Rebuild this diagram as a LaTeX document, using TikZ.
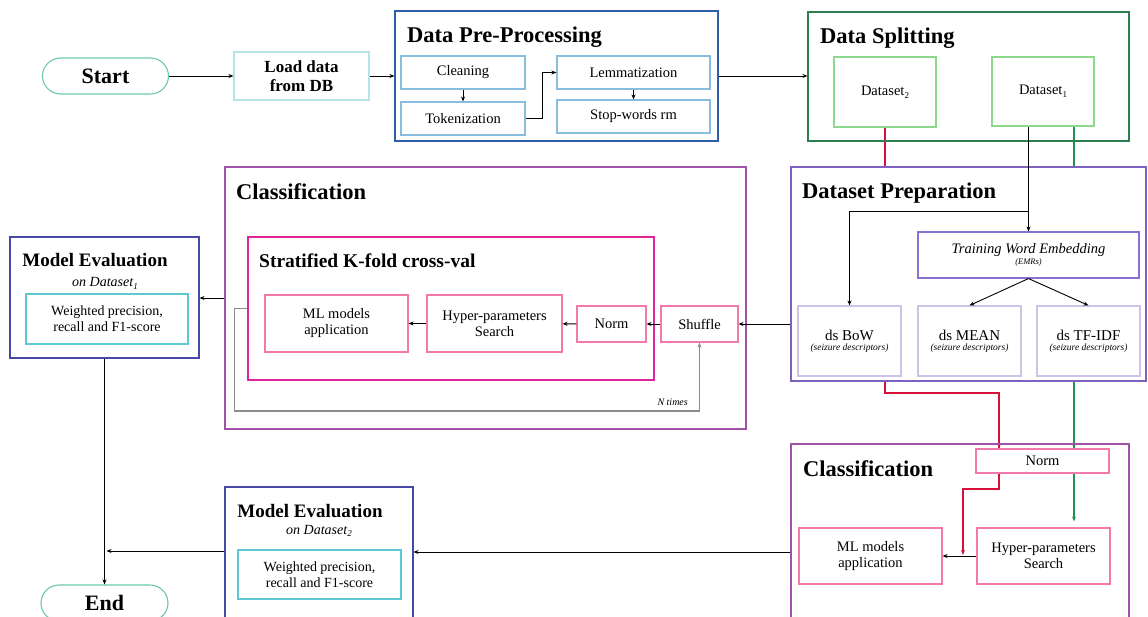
\documentclass[tikz,border=0pt]{standalone}
\usepackage{fontspec}
\setmainfont{Liberation Serif}
\usetikzlibrary{arrows.meta,calc}

\definecolor{termc}{HTML}{6CC8A8}
\definecolor{loadc}{HTML}{B5E3E8}
\definecolor{prepc}{HTML}{2E5EA8}
\definecolor{prepin}{HTML}{88BDE0}
\definecolor{splitc}{HTML}{2E7D4E}
\definecolor{splitin}{HTML}{8CD88C}
\definecolor{dsprepc}{HTML}{7E60C0}
\definecolor{twec}{HTML}{8A70D0}
\definecolor{descc}{HTML}{CBC3EA}
\definecolor{classc}{HTML}{A052A8}
\definecolor{skfc}{HTML}{E0249A}
\definecolor{pinkc}{HTML}{F27AAB}
\definecolor{evalc}{HTML}{4848A8}
\definecolor{evalin}{HTML}{5CC8D0}
\definecolor{redl}{HTML}{D8103C}
\definecolor{greenl}{HTML}{23924F}
\definecolor{loopc}{HTML}{8C8C8C}

% lowered index, as used in the dataset names
\newcommand{\lowidx}[1]{\raisebox{-0.45ex}{\fontsize{9}{10}\selectfont #1}}

\tikzset{
  box/.style={draw, line width=1.1pt, inner sep=0pt, align=center, rectangle},
  term/.style={box, draw=termc, rounded corners=18pt, font=\fontsize{22}{26}\selectfont\bfseries},
  txt/.style={font=\fontsize{14.5}{16}\selectfont},
  title/.style={anchor=base west, inner sep=0pt, font=\fontsize{22.5}{26}\selectfont\bfseries},
  arr/.style={-{Stealth[length=5pt,width=4pt]}, line width=0.9pt},
  link/.style={line width=1.3pt},
  carr/.style={arr, line width=1.3pt},
}

\begin{document}
\begin{tikzpicture}[x=1pt,y=-1pt]
\useasboundingbox (0,0) rectangle (1148,617);

% routing points for the two dataset paths
\coordinate (r1) at (999,393);
\coordinate (g1) at (1074,0);
\coordinate (r2) at (963,489);

% the two datasets and the hold-out normalisation (their links run behind the preparation block)
\node[box, draw=splitin, minimum width=102, minimum height=70, txt] (ds2) at (885,92) {Dataset\lowidx{2}};
\node[box, draw=splitin, minimum width=102, minimum height=69, txt] (ds1) at (1043,91.5) {Dataset\lowidx{1}};
\node[box, draw=pinkc, minimum width=133, minimum height=24, txt] (norm2) at (1042.5,461) {Norm};

\draw[link, color=redl] (ds2.south) |- (r1) -- (r1 |- norm2.north);
\draw[link, color=greenl] (g1 |- ds1.south) -- (g1 |- norm2.north);
\draw[carr, color=redl] ($(r1 |- norm2.north)+(0,-8)$) -- (r1 |- norm2.north);
\draw[carr, color=greenl] ($(g1 |- norm2.north)+(0,-8)$) -- (g1 |- norm2.north);

% start and loading
\node[term, minimum width=126, minimum height=36] (start) at (105.5,76) {Start};
\node[box, draw=loadc, minimum width=135, minimum height=48, font=\fontsize{17}{19}\selectfont\bfseries] (load) at (301.5,76) {Load data\\from DB};

% data pre-processing
\node[box, draw=prepc, minimum width=323, minimum height=130] (dpp) at (556.5,76) {};
\node[title] at (407,43) {Data Pre-Processing};
\node[box, draw=prepin, minimum width=124, minimum height=33, txt] (clean) at (463,72.5) {Cleaning};
\node[box, draw=prepin, minimum width=124, minimum height=33, txt] (token) at (463,118.5) {Tokenization};
\node[box, draw=prepin, minimum width=153, minimum height=33, txt] (lemma) at (633.5,72.5) {Lemmatization};
\node[box, draw=prepin, minimum width=153, minimum height=33, txt] (stopw) at (633.5,116.5) {Stop-words rm};

% data splitting
\node[box, draw=splitc, minimum width=321, minimum height=129] (dsplit) at (968.5,76.5) {};
\node[title] at (820,44) {Data Splitting};

% dataset preparation
\node[box, draw=dsprepc, fill=white, minimum width=355, minimum height=214] (dprep) at (968.5,274) {};
\node[title] at (802,199) {Dataset Preparation};
\node[box, draw=twec, minimum width=221, minimum height=46] (twe) at (1028.5,255)
  {{\fontsize{14.5}{16}\selectfont\itshape Training Word Embedding}\\[-1pt]{\fontsize{8.5}{10}\selectfont\itshape (EMRs)}};
\node[box, draw=descc, minimum width=103, minimum height=70] (bow) at (849.5,341)
  {{\fontsize{15}{17}\selectfont ds BoW}\\[-2pt]{\fontsize{9.5}{11}\selectfont\itshape (seizure descriptors)}};
\node[box, draw=descc, minimum width=103, minimum height=70] (mean) at (969.5,341)
  {{\fontsize{15}{17}\selectfont ds MEAN}\\[-2pt]{\fontsize{9.5}{11}\selectfont\itshape (seizure descriptors)}};
\node[box, draw=descc, minimum width=103, minimum height=70] (tfidf) at (1088.5,341)
  {{\fontsize{15}{17}\selectfont ds TF-IDF}\\[-2pt]{\fontsize{9.5}{11}\selectfont\itshape (seizure descriptors)}};

% cross-validated classification
\node[box, draw=classc, minimum width=521, minimum height=262] (class1) at (485.5,298) {};
\node[title] at (236,200) {Classification};
\node[box, draw=skfc, minimum width=406, minimum height=143] (skf) at (451,308.5) {};
\node[title, font=\fontsize{19.5}{23}\selectfont\bfseries] at (259,268) {Stratified K-fold cross-val};
\node[box, draw=pinkc, minimum width=143, minimum height=57, txt] (ml1) at (336.5,323.5) {ML models\\application};
\node[box, draw=pinkc, minimum width=135, minimum height=57, txt] (hyp1) at (494.5,323.5) {Hyper-parameters\\Search};
\node[box, draw=pinkc, minimum width=69, minimum height=36, txt] (norm1) at (611.5,324) {Norm};
\node[box, draw=pinkc, minimum width=77, minimum height=36, txt] (shuf) at (699.5,324) {Shuffle};

% evaluation on the first dataset
\node[box, draw=evalc, minimum width=189, minimum height=121] (me1) at (104.5,297.5) {};
\node[anchor=base, inner sep=0pt, font=\fontsize{19}{22}\selectfont\bfseries] at (95,267) {Model Evaluation};
\node[anchor=base, inner sep=0pt, font=\fontsize{14}{16}\selectfont\itshape] at (105,287) {on Dataset\lowidx{1}};
\node[box, draw=evalin, minimum width=162, minimum height=50, font=\fontsize{14}{16}\selectfont] (me1in) at (107,319) {Weighted precision,\\recall and F1-score};

% end
\node[term, minimum width=127, minimum height=36] (end) at (104.5,603) {End};

% evaluation on the second dataset
\node[box, draw=evalc, minimum width=188, minimum height=143] (me2) at (319,558.5) {};
\node[anchor=base, inner sep=0pt, font=\fontsize{19}{22}\selectfont\bfseries] at (310,517) {Model Evaluation};
\node[anchor=base, inner sep=0pt, font=\fontsize{14}{16}\selectfont\itshape] at (319,534) {on Dataset\lowidx{2}};
\node[box, draw=evalin, minimum width=163, minimum height=49, font=\fontsize{14}{16}\selectfont] (me2in) at (319.5,574.5) {Weighted precision,\\recall and F1-score};

% hold-out classification
\node[box, draw=classc, minimum width=338, minimum height=186] (class2) at (960,537) {};
\node[title] at (803,476) {Classification};
\node[box, draw=pinkc, minimum width=133, minimum height=56, txt] (hyp2) at (1043.5,556) {Hyper-parameters\\Search};
\node[box, draw=pinkc, minimum width=143, minimum height=56, txt] (ml2) at (870.5,556) {ML models\\application};

% main flow
\draw[arr] (start) -- (load);
\draw[arr] (load) -- (load -| dpp.west);
\draw[arr] (clean) -- (token);
\draw[arr] (token.east) -- ++(17,0) |- (lemma.west);
\draw[arr] (lemma) -- (stopw);
\draw[arr] (dpp.east) -- (dpp.east -| dsplit.west);

% first dataset feeds the embedding and the bag of words
\draw[arr] (twe.north |- ds1.south) -- (twe.north);
\draw[arr] (twe.north |- 0,211) -| (bow.north);
\draw[arr] (twe.south) -- (mean.north);
\draw[arr] (twe.south) -- (tfidf.north);

% cross-validation chain
\draw[arr] (dprep.west |- shuf.east) -- (shuf.east);
\draw[arr] (shuf) -- (norm1);
\draw[arr] (norm1) -- (hyp1);
\draw[arr] (hyp1) -- (ml1);
\draw[arr, color=loopc, line width=1.4pt] (skf.west) -- ++(-13,0) coordinate (l1) -- (l1 |- 0,411) -| (shuf.south);
\node[anchor=base east, inner sep=0pt, font=\fontsize{10}{12}\selectfont\itshape] (ntimes) at (688,405) {N times};

% evaluations and end
\draw[arr] (class1.west) -- (class1.west -| me1.east);
\draw[arr] (me1.south) -- (end.north);
\draw[arr] (me2.west |- 0,551) -- ($(end.north |- 0,551)+(2,0)$);
\draw[arr] (class2.west |- 0,552) -- (me2.east |- 0,552);

% hold-out chain
\draw[carr, color=redl] (r1 |- norm2.south) |- (r2) -- ($(r2 |- hyp2.west)+(0,-1)$);
\draw[carr, color=greenl] (g1 |- norm2.south) -- ($(g1 |- hyp2.north)+(0,-6)$);
\draw[arr] (hyp2) -- (ml2);
\end{tikzpicture}
\end{document}
